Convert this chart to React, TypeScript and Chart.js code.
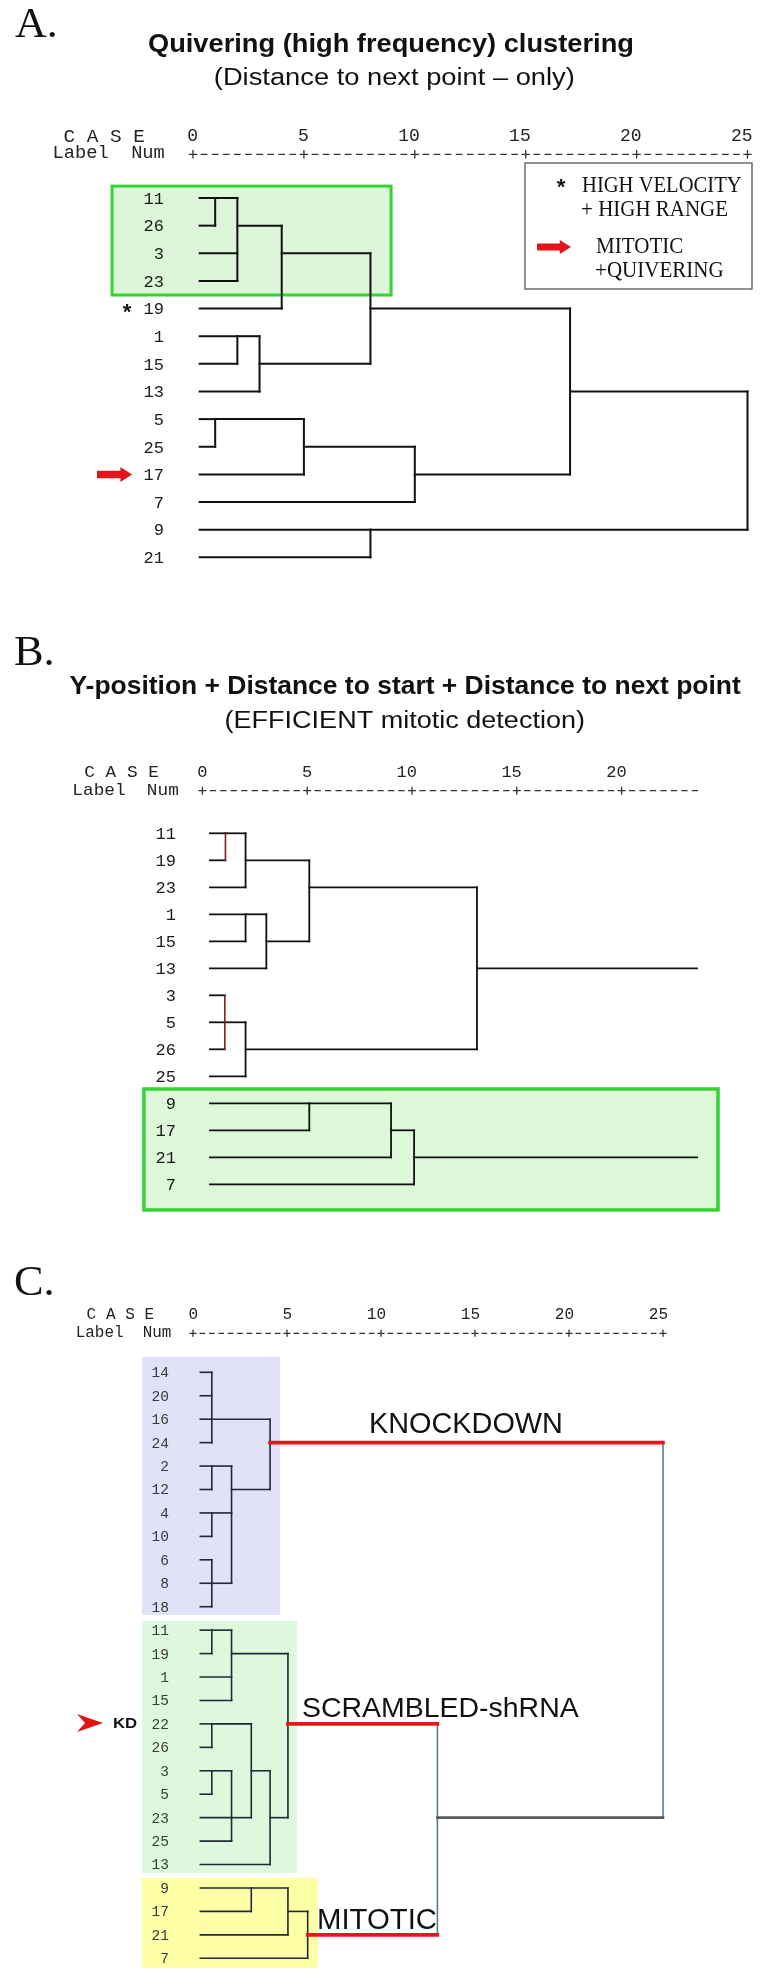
import React, { useEffect, useRef } from "react";
import { Chart, registerables } from "chart.js";
Chart.register(...registerables);

// ================= DATA =================
// Panel A – Quivering clustering (leaf order top→bottom)
const leavesA = ["11", "26", "3", "23", "19", "1", "15", "13", "5", "25", "17", "7", "9", "21"];
// merges: node id = leaves.length + index
const childrenA = [[0, 1], [14, 2, 3], [15, 4], [5, 6], [17, 7], [16, 18], [8, 9], [20, 10], [21, 11], [19, 22], [12, 13], [23, 24]];
const heightsA = [1, 2, 4, 2, 3, 8, 1, 5, 10, 17, 8, 25];
const rowsA = [0, 1, 2, 5, 6, 4, 8, 9, 10, 7, 12, 7];
const ticksA = [0, 5, 10, 15, 20, 25];

// Panel B – Y-position + Distance to start + Distance to next point
const leavesB = ["11", "19", "23", "1", "15", "13", "3", "5", "26", "25", "9", "17", "21", "7"];
const childrenB = [[0, 1], [14, 2], [3, 4], [16, 5], [15, 17], [6, 7, 8], [19, 9], [18, 20], [10, 11], [22, 12], [23, 13]];
const heightsB = [1.1, 2.06, 2.06, 3.05, 5.1, 1.07, 2.06, 13.1, 5.1, 9.0, 10.1];
const rowsB = [0, 1, 3, 4, 2, 7, 8, 5, 10, 11, 12];
const tailRootsB = [21, 24];
const tailEndB = 23.6;
const ticksB = [0, 5, 10, 15, 20];
const axisEndB = 23.7;

// Panel C – Knockdown / scrambled / mitotic
const leavesC = ["14", "20", "16", "24", "2", "12", "4", "10", "6", "8", "18", "11", "19", "1", "15", "22", "26", "3", "5", "23", "25", "13", "9", "17", "21", "7"];
const childrenC = [[0, 1, 2, 3], [4, 5], [6, 7], [8, 9, 10], [27, 28, 29], [26, 30], [11, 12], [32, 13, 14], [15, 16], [17, 18], [35, 19, 20], [34, 36], [37, 21], [33, 38], [22, 23], [40, 24], [41, 25], [39, 42], [31, 43]];
const heightsC = [1, 1, 1, 1, 2.05, 4.1, 1, 2.05, 1, 1, 2.05, 3.1, 4.1, 5.05, 3.1, 5.05, 6.1, 13, 25];
const rowsC = [2, 4, 6, 9, 5, 3, 11, 12, 15, 17, 19, 17, 19, 15, 22, 23, 24, 19, 19];
const ticksC = [0, 5, 10, 15, 20, 25];
const redNodesC = [31, 39, 42];

// ================= HELPERS =================
type Seg = { x1: number; y1: number; x2: number; y2: number; color: string; width: number; order: number };

function buildTree(
  leaves: string[], children: number[][], heights: number[], rows: number[], leafStart: number,
  hStyle: (child: number) => [string, number, number], vStyle: (k: number) => [string, number, number]
): Seg[] {
  const n = leaves.length;
  const rowOf = (id: number) => (id < n ? id : rows[id - n]);
  const startOf = (id: number) => (id < n ? leafStart : heights[id - n]);
  const segs: Seg[] = [];
  children.forEach((ch, k) => {
    const h = heights[k];
    const rs = ch.map(rowOf);
    const [vc, vw, vo] = vStyle(k);
    segs.push({ x1: h, y1: Math.min(...rs), x2: h, y2: Math.max(...rs), color: vc, width: vw, order: vo });
    ch.forEach((c) => {
      const [hc, hw, ho] = hStyle(c);
      segs.push({ x1: startOf(c), y1: rowOf(c), x2: h, y2: rowOf(c), color: hc, width: hw, order: ho });
    });
  });
  return segs;
}

function toDatasets(segs: Seg[]) {
  return segs.map((s) => ({
    data: [{ x: s.x1, y: s.y1 }, { x: s.x2, y: s.y2 }],
    showLine: true,
    borderColor: s.color,
    backgroundColor: s.color,
    borderWidth: s.width,
    pointRadius: 0,
    pointHoverRadius: 0,
    fill: false,
    clip: false as any,
    tension: 0,
    borderCapStyle: "square" as const,
    order: s.order,
  }));
}

function fitText(ctx: CanvasRenderingContext2D, text: string, x1: number, x2: number, base: number, font: string, color = "#111") {
  ctx.save();
  ctx.font = font;
  ctx.fillStyle = color;
  ctx.textAlign = "left";
  ctx.textBaseline = "alphabetic";
  const m = ctx.measureText(text);
  const l = m.actualBoundingBoxLeft || 0;
  const w = (m.actualBoundingBoxRight || m.width) + l;
  const sx = (x2 - x1) / w;
  ctx.translate(x1, base);
  ctx.scale(sx, 1);
  ctx.fillText(text, l, 0);
  ctx.restore();
}

type Fx = (v: number) => number;

function drawHeader(ctx: CanvasRenderingContext2D, X: Fx, o: {
  ticks: number[]; axisEnd: number; numBase: number; plusY: number; size: number;
  caseX: [number, number]; caseBase: number; labelX: [number, number]; labelBase: number;
}) {
  const mono = `${o.size}px "Liberation Mono", "DejaVu Sans Mono", monospace`;
  fitText(ctx, "C A S E", o.caseX[0], o.caseX[1], o.caseBase, mono, "#222");
  fitText(ctx, "Label  Num", o.labelX[0], o.labelX[1], o.labelBase, mono, "#222");
  ctx.save();
  ctx.font = mono;
  ctx.fillStyle = "#222";
  ctx.textAlign = "right";
  ctx.textBaseline = "alphabetic";
  o.ticks.forEach((t) => ctx.fillText(String(t), X(t) + 5, o.numBase));
  const x0 = X(0);
  const cell = (X(5) - X(0)) / 10;
  const xEnd = X(o.axisEnd);
  ctx.strokeStyle = "#333";
  ctx.lineWidth = 1.3;
  ctx.beginPath();
  for (let i = 0; x0 + i * cell <= xEnd + 0.5; i++) {
    const p = x0 + i * cell;
    if (i % 10 === 0) {
      const a = cell * 0.38;
      ctx.moveTo(p - a, o.plusY); ctx.lineTo(p + a, o.plusY);
      ctx.moveTo(p, o.plusY - a); ctx.lineTo(p, o.plusY + a);
    } else {
      ctx.moveTo(p - cell * 0.3, o.plusY); ctx.lineTo(p + cell * 0.3, o.plusY);
    }
  }
  ctx.stroke();
  ctx.restore();
}

function drawLeafLabels(ctx: CanvasRenderingContext2D, Y: Fx, leaves: string[], xRight: number, size: number, color: string) {
  ctx.save();
  ctx.font = `${size}px "Liberation Mono", "DejaVu Sans Mono", monospace`;
  ctx.fillStyle = color;
  ctx.textAlign = "right";
  ctx.textBaseline = "alphabetic";
  leaves.forEach((l, i) => ctx.fillText(l, xRight, Y(i) + size * 0.34));
  ctx.restore();
}

function box(ctx: CanvasRenderingContext2D, X: Fx, Y: Fx, b: { x1: number; x2: number; r1: number; r2: number }, fill: string, stroke?: string, lw = 3) {
  const x = X(b.x1), y = Y(b.r1), w = X(b.x2) - X(b.x1), h = Y(b.r2) - Y(b.r1);
  ctx.save();
  ctx.fillStyle = fill;
  ctx.fillRect(x, y, w, h);
  if (stroke) {
    ctx.strokeStyle = stroke;
    ctx.lineWidth = lw;
    ctx.strokeRect(x, y, w, h);
  }
  ctx.restore();
}

function blockArrow(ctx: CanvasRenderingContext2D, x1: number, x2: number, yc: number, h: number, color: string) {
  const shaft = h * 0.5;
  const head = (x2 - x1) * 0.33;
  ctx.save();
  ctx.fillStyle = color;
  ctx.beginPath();
  ctx.moveTo(x1, yc - shaft / 2);
  ctx.lineTo(x2 - head, yc - shaft / 2);
  ctx.lineTo(x2 - head, yc - h / 2);
  ctx.lineTo(x2, yc);
  ctx.lineTo(x2 - head, yc + h / 2);
  ctx.lineTo(x2 - head, yc + shaft / 2);
  ctx.lineTo(x1, yc + shaft / 2);
  ctx.closePath();
  ctx.fill();
  ctx.restore();
}

function asterisk(ctx: CanvasRenderingContext2D, xc: number, yc: number, size: number) {
  ctx.save();
  ctx.font = `bold ${size}px "Liberation Mono", monospace`;
  ctx.fillStyle = "#111";
  ctx.textAlign = "center";
  ctx.textBaseline = "alphabetic";
  ctx.fillText("*", xc, yc + size * 0.5);
  ctx.restore();
}

const SANS = '"Liberation Sans", Arial, sans-serif';
const SERIF = '"Liberation Serif", "Times New Roman", serif';

// ================= PANEL CONFIGS =================
type PanelCfg = {
  top: number;
  height: number;
  pad: { left: number; right: number; top: number; bottom: number };
  rowsN: number;
  datasets: any[];
  before: (ctx: CanvasRenderingContext2D, X: Fx, Y: Fx) => void;
  after: (ctx: CanvasRenderingContext2D, X: Fx, Y: Fx) => void;
};

const panelA: PanelCfg = {
  top: 0,
  height: 590,
  pad: { left: 193, right: 29.5, top: 198, bottom: 32.7 },
  rowsN: leavesA.length,
  datasets: toDatasets(
    buildTree(leavesA, childrenA, heightsA, rowsA, 0.3, () => ["#111", 2, 1], () => ["#111", 2, 1])
  ),
  before: (ctx, X, Y) => {
    box(ctx, X, Y, { x1: -3.65, x2: 8.93, r1: -0.43, r2: 3.51 }, "#ddf6d9", "#35d335", 3);
  },
  after: (ctx, X, Y) => {
    fitText(ctx, "A.", 15, 55, 37, `42px ${SERIF}`);
    fitText(ctx, "Quivering (high frequency) clustering", 149, 633, 52, `bold 26px ${SANS}`);
    fitText(ctx, "(Distance to next point \u2013 only)", 215, 574, 85, `23px ${SANS}`);
    drawHeader(ctx, X, {
      ticks: ticksA, axisEnd: 25, numBase: 141, plusY: 154.3, size: 18,
      caseX: [64.5, 144], caseBase: 142, labelX: [54.6, 164], labelBase: 158,
    });
    drawLeafLabels(ctx, Y, leavesA, 164, 17, "#1a1a1a");
    // markers
    asterisk(ctx, 127, Y(4), 22);
    blockArrow(ctx, 97, 132, Y(10), 15, "#e3131b");
    // legend
    ctx.save();
    ctx.fillStyle = "#fff";
    ctx.fillRect(525, 163, 227, 126);
    ctx.strokeStyle = "#555";
    ctx.lineWidth = 1.3;
    ctx.strokeRect(525, 163, 227, 126);
    ctx.restore();
    asterisk(ctx, 561, 184, 22);
    fitText(ctx, "HIGH VELOCITY", 582, 742, 192, `23px ${SERIF}`);
    fitText(ctx, "+ HIGH RANGE", 582, 727, 216, `23px ${SERIF}`);
    blockArrow(ctx, 537, 571, 247, 14, "#e3131b");
    fitText(ctx, "MITOTIC", 596, 683, 253, `23px ${SERIF}`);
    fitText(ctx, "+QUIVERING", 596, 723, 277, `23px ${SERIF}`);
  },
};

const panelB: PanelCfg = {
  top: 590,
  height: 640,
  pad: { left: 202.4, right: 50.6, top: 243.3, bottom: 45.7 },
  rowsN: leavesB.length,
  datasets: toDatasets([
    ...buildTree(
      leavesB, childrenB, heightsB, rowsB, 0.36,
      () => ["#111", 1.8, 1],
      (k) => (k === 0 || k === 5 ? ["#7a2323", 1.6, 1] : ["#111", 1.8, 1])
    ),
    ...tailRootsB.map((id) => ({
      x1: heightsB[id - leavesB.length], y1: rowsB[id - leavesB.length],
      x2: tailEndB, y2: rowsB[id - leavesB.length], color: "#111", width: 1.8, order: 1,
    })),
  ]),
  before: (ctx, X, Y) => {
    box(ctx, X, Y, { x1: -2.79, x2: 24.6, r1: 9.47, r2: 13.95 }, "#ddf7d9", "#35d335", 3.5);
  },
  after: (ctx, X, Y) => {
    fitText(ctx, "B.", 15, 52, 665, `42px ${SERIF}`);
    fitText(ctx, "Y-position + Distance to start + Distance to next point", 69.4, 741.5, 694, `bold 25px ${SANS}`);
    fitText(ctx, "(EFFICIENT mitotic detection)", 225.7, 584.2, 728, `23px ${SANS}`);
    drawHeader(ctx, X, {
      ticks: ticksB, axisEnd: axisEndB, numBase: 777, plusY: 790.7, size: 17,
      caseX: [84.3, 158.7], caseBase: 777, labelX: [73.4, 178.6], labelBase: 795,
    });
    drawLeafLabels(ctx, Y, leavesB, 176, 17, "#1a1a1a");
  },
};

const panelC: PanelCfg = {
  top: 1230,
  height: 756,
  pad: { left: 193, right: 114, top: 142.3, bottom: 27.7 },
  rowsN: leavesC.length,
  datasets: toDatasets(
    buildTree(
      leavesC, childrenC, heightsC, rowsC, 0.39,
      (c) =>
        redNodesC.includes(c) ? ["#e3161c", 3.6, 0] : c === 43 ? ["#5a5a5a", 2.6, 0] : ["#1f2a36", 1.6, 1],
      (k) => (k >= 17 ? ["#4d7f8c", 1.6, 1] : ["#1f2a36", 1.6, 1])
    )
  ),
  before: (ctx, X, Y) => {
    box(ctx, X, Y, { x1: -2.71, x2: 4.63, r1: -0.65, r2: 10.35 }, "#e1e1f8");
    box(ctx, X, Y, { x1: -2.71, x2: 5.53, r1: 10.61, r2: 21.36 }, "#ddf8dc");
    box(ctx, X, Y, { x1: -2.71, x2: 6.65, r1: 21.57, r2: 25.41 }, "#ffffa8");
  },
  after: (ctx, X, Y) => {
    fitText(ctx, "C.", 15, 52, 1295, `42px ${SERIF}`);
    drawHeader(ctx, X, {
      ticks: ticksC, axisEnd: 25, numBase: 1319, plusY: 1333.3, size: 16,
      caseX: [86.6, 153.5], caseBase: 1319, labelX: [76.7, 170.8], labelBase: 1337,
    });
    drawLeafLabels(ctx, Y, leavesC, 169, 14.5, "#3a3a3a");
    fitText(ctx, "KNOCKDOWN", 371, 561, 1433, `29px ${SANS}`);
    fitText(ctx, "SCRAMBLED-shRNA", 303, 579, 1717, `28px ${SANS}`);
    fitText(ctx, "MITOTIC", 319, 436, 1929, `29px ${SANS}`);
    // KD marker
    ctx.save();
    ctx.fillStyle = "#e01515";
    ctx.beginPath();
    ctx.moveTo(103, 1723);
    ctx.lineTo(77, 1714);
    ctx.lineTo(85, 1723);
    ctx.lineTo(77, 1732);
    ctx.closePath();
    ctx.fill();
    ctx.restore();
    fitText(ctx, "KD", 113, 137, 1728, `bold 14px ${SANS}`);
  },
};

// ================= COMPONENTS =================
function Panel({ cfg }: { cfg: PanelCfg }) {
  const ref = useRef<HTMLCanvasElement>(null);
  useEffect(() => {
    const canvas = ref.current;
    if (!canvas) return;
    const T = cfg.top;
    const deco = {
      id: "deco",
      beforeDraw(chart: any) {
        const c = chart.ctx as CanvasRenderingContext2D;
        c.save();
        c.fillStyle = "#fff";
        c.fillRect(0, 0, chart.width, chart.height);
        c.restore();
      },
      beforeDatasetsDraw(chart: any) {
        const c = chart.ctx as CanvasRenderingContext2D;
        const X = (v: number) => chart.scales.x.getPixelForValue(v);
        const Y = (r: number) => chart.scales.y.getPixelForValue(r) + T;
        c.save();
        c.translate(0, -T);
        cfg.before(c, X, Y);
        c.restore();
      },
      afterDatasetsDraw(chart: any) {
        const c = chart.ctx as CanvasRenderingContext2D;
        const X = (v: number) => chart.scales.x.getPixelForValue(v);
        const Y = (r: number) => chart.scales.y.getPixelForValue(r) + T;
        c.save();
        c.translate(0, -T);
        cfg.after(c, X, Y);
        c.restore();
      },
    };
    const chart = new Chart(canvas, {
      type: "scatter",
      data: { datasets: cfg.datasets },
      options: {
        animation: false,
        responsive: false,
        devicePixelRatio: 1,
        events: [],
        layout: { padding: cfg.pad },
        scales: {
          x: { type: "linear", min: 0, max: 25, display: false },
          y: { type: "linear", min: 0, max: cfg.rowsN - 1, reverse: true, display: false },
        },
        plugins: { legend: { display: false }, tooltip: { enabled: false } },
      },
      plugins: [deco],
    } as any);
    return () => chart.destroy();
  }, [cfg]);
  return (
    <canvas
      ref={ref}
      width={777}
      height={cfg.height}
      style={{ position: "absolute", left: 0, top: cfg.top, width: 777, height: cfg.height, display: "block" }}
    />
  );
}

export default function App() {
  return (
    <div style={{ position: "absolute", left: 0, top: 0, width: 777, height: 1986, background: "#fff", overflow: "hidden" }}>
      <Panel cfg={panelA} />
      <Panel cfg={panelB} />
      <Panel cfg={panelC} />
    </div>
  );
}
